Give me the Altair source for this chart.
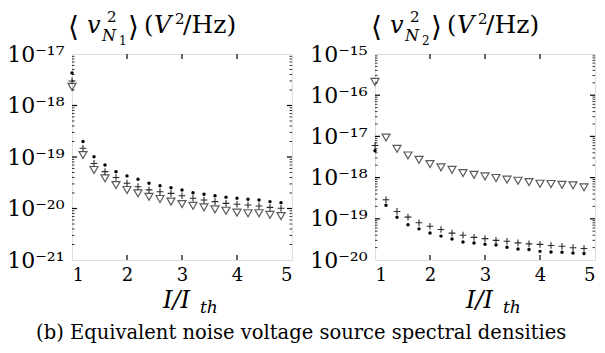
import altair as alt
import pandas as pd

# ---------------- data ----------------
x_vals = [1.0, 1.2, 1.4, 1.6, 1.8, 2.0, 2.2, 2.4, 2.6, 2.8,
          3.0, 3.2, 3.4, 3.6, 3.8, 4.0, 4.2, 4.4, 4.6, 4.8]

left_dot = [4.3e-18, 2.0e-19, 1.01e-19, 7.0e-20, 5.2e-20, 4.3e-20, 3.7e-20, 3.1e-20, 2.77e-20, 2.54e-20,
            2.29e-20, 2.03e-20, 1.89e-20, 1.77e-20, 1.65e-20, 1.58e-20, 1.51e-20, 1.46e-20, 1.36e-20, 1.30e-20]
left_plus = [3.0e-18, 1.48e-19, 7.5e-20, 5.2e-20, 4.0e-20, 3.1e-20, 2.65e-20, 2.3e-20, 2.12e-20, 1.97e-20,
             1.77e-20, 1.58e-20, 1.46e-20, 1.36e-20, 1.26e-20, 1.21e-20, 1.17e-20, 1.12e-20, 1.05e-20, 1.01e-20]
left_tri = [2.3e-18, 1.09e-19, 5.6e-20, 3.86e-20, 2.86e-20, 2.29e-20, 1.97e-20, 1.69e-20, 1.53e-20, 1.36e-20,
            1.22e-20, 1.13e-20, 1.05e-20, 9.6e-21, 9.05e-21, 8.3e-21, 8.1e-21, 8.1e-21, 7.5e-21, 7.15e-21]

right_tri = [2.1e-16, 9.4e-18, 5.0e-18, 3.45e-18, 2.7e-18, 2.13e-18, 1.77e-18, 1.55e-18, 1.29e-18, 1.17e-18,
             1.07e-18, 9.8e-19, 8.9e-19, 8.4e-19, 7.8e-19, 7.1e-19, 7.0e-19, 6.7e-19, 6.5e-19, 5.8e-19]
right_plus = [6.0e-18, 2.9e-19, 1.51e-19, 1.1e-19, 8.0e-20, 6.6e-20, 5.5e-20, 4.5e-20, 4.0e-20, 3.55e-20,
              3.3e-20, 3.0e-20, 2.85e-20, 2.6e-20, 2.46e-20, 2.4e-20, 2.25e-20, 2.15e-20, 1.99e-20, 1.9e-20]
right_dot = [4.5e-18, 2.13e-19, 1.09e-19, 7.2e-20, 5.7e-20, 4.5e-20, 3.8e-20, 3.25e-20, 2.75e-20, 2.6e-20,
             2.4e-20, 2.3e-20, 2.04e-20, 1.86e-20, 1.79e-20, 1.62e-20, 1.57e-20, 1.54e-20, 1.48e-20, 1.44e-20]

x_ticks = [1, 2, 3, 4, 5]
x_labels = ["1", "2", "3", "4", "5"]
left_exps = [-21, -20, -19, -18, -17]
left_labels = ["10⁻²¹", "10⁻²⁰", "10⁻¹⁹", "10⁻¹⁸", "10⁻¹⁷"]
right_exps = [-20, -19, -18, -17, -16, -15]
right_labels = ["10⁻²⁰", "10⁻¹⁹", "10⁻¹⁸", "10⁻¹⁷", "10⁻¹⁶", "10⁻¹⁵"]
caption = "(b) Equivalent noise voltage source spectral densities"

FONT = "DejaVu Serif"
W, H = 220, 206
PLUS = "M-1,0H1M0,-1V1"


def txt(s, x, y, size, italic=False):
    return alt.Chart(pd.DataFrame({"t": [s]})).mark_text(
        text=s, align="left", baseline="alphabetic", font=FONT, fontSize=size,
        fontStyle="italic" if italic else "normal", color="black"
    ).encode(x=alt.value(x), y=alt.value(y))


def panel(dot, plus, tri, exps, labels, sub):
    xs = alt.Scale(domain=[x_ticks[0], x_ticks[-1]], nice=False, zero=False)
    ys = alt.Scale(type="log", domain=[10.0 ** exps[0], 10.0 ** exps[-1]], nice=False)
    xlab = "[" + ",".join("'%s'" % l for l in x_labels) + "][round(datum.value) - %d]" % x_ticks[0]
    ylab = "[" + ",".join("'%s'" % l for l in labels) + "][round(log(datum.value)/LN10) - (%d)]" % exps[0]
    xaxis = alt.Axis(values=x_ticks, labelExpr=xlab, title=None, labelFont=FONT, labelFontSize=18,
                     labelPadding=6, labelColor="black", ticks=False, domain=False, grid=False)
    yaxis = alt.Axis(values=[10.0 ** e for e in exps], labelExpr=ylab, title=None, labelFont=FONT,
                     labelFontSize=22, labelPadding=8, labelColor="black", ticks=False, domain=False,
                     grid=False, labelBaseline="middle")
    X = alt.X("x:Q", scale=xs, axis=xaxis)
    Y = alt.Y("v:Q", scale=ys, axis=yaxis)

    def pts(yv):
        return alt.Chart(pd.DataFrame({"x": x_vals, "v": yv}))

    tri_l = pts(tri).mark_point(shape="triangle-down", filled=False, color="#5a5a5a",
                                strokeWidth=1.2, size=64, opacity=1).encode(x=X, y=Y)
    plus_l = pts(plus).mark_point(shape=PLUS, filled=False, color="#2a2a2a",
                                  strokeWidth=1.1, size=45, opacity=1).encode(x=X, y=Y)
    dot_l = pts(dot).mark_point(shape="circle", filled=True, color="black",
                                size=12, opacity=1).encode(x=X, y=Y)

    major = pd.DataFrame({"v": [10.0 ** e for e in exps[1:-1]]})
    minor = pd.DataFrame({"v": [m * 10.0 ** e for e in exps[:-1] for m in range(2, 10)]})
    xmaj = pd.DataFrame({"x": x_ticks[1:-1]})
    rule = dict(color="black", strokeWidth=1.2)
    ticks = [
        alt.Chart(major).mark_rule(**rule).encode(y=Y, x=alt.value(0), x2=alt.value(5)),
        alt.Chart(major).mark_rule(**rule).encode(y=Y, x=alt.value(W), x2=alt.value(W - 5)),
        alt.Chart(minor).mark_rule(color="black", strokeWidth=0.8).encode(y=Y, x=alt.value(0), x2=alt.value(2.5)),
        alt.Chart(minor).mark_rule(color="black", strokeWidth=0.8).encode(y=Y, x=alt.value(W), x2=alt.value(W - 2.5)),
        alt.Chart(xmaj).mark_rule(**rule).encode(x=X, y=alt.value(H), y2=alt.value(H - 5)),
        alt.Chart(xmaj).mark_rule(**rule).encode(x=X, y=alt.value(0), y2=alt.value(5)),
    ]

    title = [
        txt("⟨", -4, -18, 28),
        txt("v", 15, -21, 24, True),
        txt("2", 35, -32, 15),
        txt("N", 30, -13, 16, True),
        txt(sub, 47, -9, 12),
        txt("⟩", 56, -18, 28),
        txt("(", 72, -21, 24),
        txt("V", 82, -21, 24, True),
        txt("2", 103, -30, 15),
        txt("/Hz)", 111, -21, 25),
        txt("I/I", 91, H + 48, 24, True),
        txt("th", 128, H + 53, 17, True),
    ]

    return alt.layer(tri_l, plus_l, dot_l, *ticks, *title).properties(width=W, height=H)


left = panel(left_dot, left_plus, left_tri, left_exps, left_labels, "1")
right = panel(right_dot, right_plus, right_tri, right_exps, right_labels, "2")

chart = alt.hconcat(left, right, spacing=15).properties(
    title=alt.TitleParams(caption, orient="bottom", anchor="middle", font=FONT, fontSize=19.5,
                          fontWeight="normal", color="black", offset=7),
    padding={"left": 6, "top": 9, "right": 4, "bottom": 4},
).configure_view(stroke="black", strokeWidth=1.3).configure(background="white")

chart.save("out.html", embed_options={"renderer": "svg", "actions": False})
